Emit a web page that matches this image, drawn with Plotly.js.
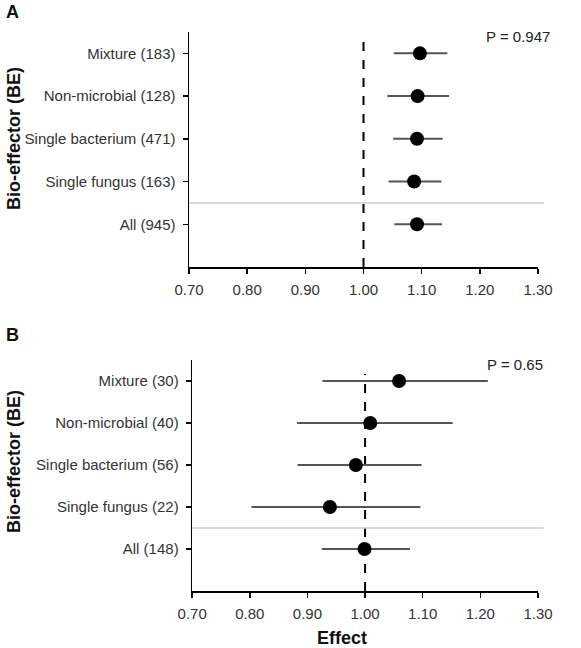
<!DOCTYPE html>
<html><head><meta charset="utf-8">
<script src="https://cdn.plot.ly/plotly-3.0.1.min.js"></script>
<style>html,body{margin:0;padding:0;background:#fff}#c{width:581px;height:648px}</style>
</head><body><div id="c"></div>
<script>
// Panel A
const catsA = ['All (945)', 'Single fungus (163)', 'Single bacterium (471)', 'Non-microbial (128)', 'Mixture (183)'];
const effA  = [1.092, 1.087, 1.092, 1.093, 1.097];
const lowA  = [1.053, 1.043, 1.051, 1.041, 1.052];
const highA = [1.135, 1.134, 1.136, 1.147, 1.144];
const pA = 'P = 0.947';
// Panel B
const catsB = ['All (148)', 'Single fungus (22)', 'Single bacterium (56)', 'Non-microbial (40)', 'Mixture (30)'];
const effB  = [0.999, 0.939, 0.984, 1.009, 1.059];
const lowB  = [0.925, 0.803, 0.883, 0.882, 0.926];
const highB = [1.078, 1.096, 1.098, 1.152, 1.213];
const pB = 'P = 0.65';
const xTicks = [0.70, 0.80, 0.90, 1.00, 1.10, 1.20, 1.30];

function trace(cats, eff, low, high, xa, ya){
  return {
    type:'scatter', mode:'markers', x:eff, y:cats, xaxis:xa, yaxis:ya,
    marker:{color:'#000', size:14},
    error_x:{type:'data', symmetric:false,
      array:eff.map((v,i)=>high[i]-v), arrayminus:eff.map((v,i)=>v-low[i]),
      color:'#555', thickness:2, width:0},
    showlegend:false, hoverinfo:'skip', cliponaxis:false
  };
}
const font = {family:'Liberation Sans, Arial, sans-serif', color:'#222'};
function xax(anchor, domain){
  return {anchor:anchor, domain:domain, range:[0.7,1.3], tickvals:xTicks, ticktext:xTicks.map(v=>v.toFixed(2)),
    showline:true, linecolor:'#000', linewidth:1.5, ticks:'outside', ticklen:5, tickwidth:1.5, tickcolor:'#000',
    ticklabelstandoff:3,
    showgrid:false, zeroline:false, tickfont:{size:15, color:'#333'}};
}
function yax(anchor, domain, cats){
  return {anchor:anchor, domain:domain, type:'category', categoryorder:'array', categoryarray:cats, range:[-1,4.5],
    showline:true, linecolor:'#000', linewidth:1.5, ticks:'outside', ticklen:5, tickwidth:1.5, tickcolor:'#000',
    ticklabelstandoff:4,
    showgrid:false, zeroline:false, tickfont:{size:15, color:'#333'}};
}
const layout = {
  width:581, height:648, margin:{l:189, r:43, t:32, b:57},
  paper_bgcolor:'#fff', plot_bgcolor:'#fff', font:font,
  xaxis: xax('y', [0,1]),
  yaxis: yax('x', [0.5796,1], catsA),
  xaxis2: xax('y2', [0.009,1]),
  yaxis2: yax('x2', [0,0.4132], catsB),
  shapes:[
    {type:'line', xref:'x', yref:'y domain', x0:1, x1:1, y0:0, y1:0.97, line:{color:'#000', width:2, dash:'dash'}, layer:'below'},
    {type:'line', xref:'x2', yref:'y2 domain', x0:1, x1:1, y0:0, y1:0.94, line:{color:'#000', width:2, dash:'dash'}, layer:'below'},
    {type:'line', xref:'paper', yref:'y', x0:0, x1:1.017, y0:0.5, y1:0.5, line:{color:'#ccc', width:1.5}, layer:'below'},
    {type:'line', xref:'paper', yref:'y2', x0:0.009, x1:1.017, y0:0.5, y1:0.5, line:{color:'#ccc', width:1.5}, layer:'below'}
  ],
  annotations:[
    {text:'<b>A</b>', xref:'paper', yref:'paper', x:-0.505, y:(591-11.5)/559, xanchor:'center', yanchor:'middle', showarrow:false, font:{size:18, color:'#111'}},
    {text:'<b>B</b>', xref:'paper', yref:'paper', x:-0.505, y:(591-335)/559, xanchor:'center', yanchor:'middle', showarrow:false, font:{size:18, color:'#111'}},
    {text:'<b>Bio-effector (BE)</b>', xref:'paper', yref:'paper', x:(14-189)/349, y:(591-139)/559, textangle:-90, xanchor:'center', yanchor:'middle', showarrow:false, font:{size:18, color:'#111'}},
    {text:'<b>Bio-effector (BE)</b>', xref:'paper', yref:'paper', x:(14-189)/349, y:(591-462)/559, textangle:-90, xanchor:'center', yanchor:'middle', showarrow:false, font:{size:18, color:'#111'}},
    {text:'<b>Effect</b>', xref:'paper', yref:'paper', x:(342-189)/349, y:(591-638)/559, xanchor:'center', yanchor:'middle', showarrow:false, font:{size:18, color:'#111'}},
    {text:pA, xref:'paper', yref:'paper', x:(552-189)/349, y:(591-36)/559, xanchor:'right', yanchor:'middle', showarrow:false, font:{size:15, color:'#222'}},
    {text:pB, xref:'paper', yref:'paper', x:(545-189)/349, y:(591-364)/559, xanchor:'right', yanchor:'middle', showarrow:false, font:{size:15, color:'#222'}}
  ]
};
Plotly.newPlot('c', [trace(catsA,effA,lowA,highA,'x','y'), trace(catsB,effB,lowB,highB,'x2','y2')], layout, {displayModeBar:false, staticPlot:true});
</script></body></html>
